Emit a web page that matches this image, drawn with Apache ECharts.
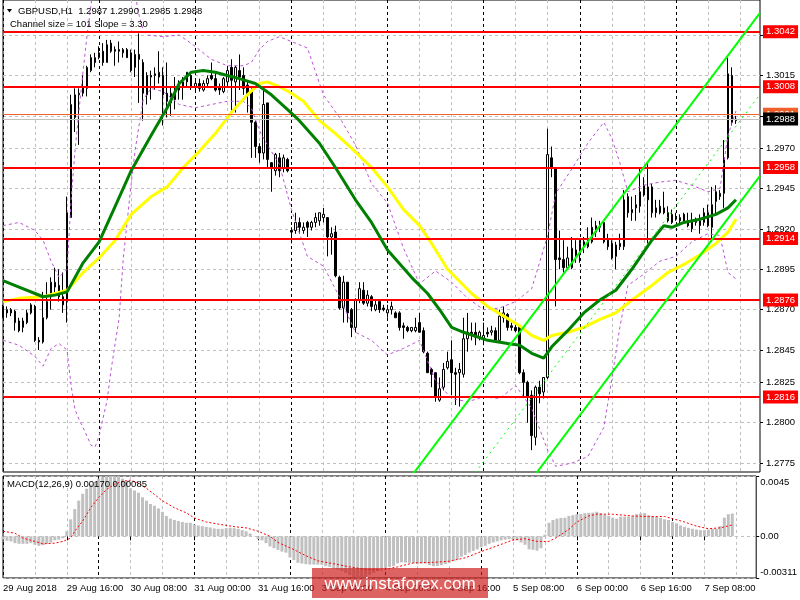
<!DOCTYPE html>
<html><head><meta charset="utf-8">
<script src="https://cdn.jsdelivr.net/npm/echarts@6/dist/echarts.min.js"></script>
<style>html,body{margin:0;padding:0;background:#fff}#c{width:800px;height:600px}</style>
</head><body><div id="c"></div>
<script>
// ---------- price data (GBPUSD H1, 29 Aug 00:00 -> 7 Sep 15:00) ----------
const opens=[1.2872,1.2870,1.2870,1.2869,1.2863,1.2859,1.2862,1.2868,1.2872,1.2851,
1.2850,1.2865,1.2878,1.2884,1.2885,1.2878,1.2875,1.2927,1.2989,1.3003,
1.3004,1.3007,1.3018,1.3026,1.3026,1.3030,1.3023,1.3035,1.3031,1.3031,
1.3029,1.3031,1.3029,1.3020,1.3028,1.3023,1.3003,1.3015,1.3016,1.3014,
1.3015,1.3004,1.2998,1.3006,1.3006,1.3008,1.3011,1.3015,1.3008,1.3010,
1.3006,1.3010,1.3015,1.3013,1.3008,1.3005,1.3011,1.3020,1.3011,1.3018,
1.3015,1.3009,1.3005,1.2986,1.2971,1.2967,1.2998,1.2961,1.2956,1.2964,
1.2958,1.2963,1.2919,1.2919,1.2924,1.2919,1.2924,1.2921,1.2924,1.2925,
1.2927,1.2927,1.2915,1.2918,1.2890,1.2871,1.2887,1.2870,1.2859,1.2876,
1.2882,1.2874,1.2878,1.2870,1.2875,1.2871,1.2868,1.2870,1.2868,1.2868,
1.2860,1.2859,1.2857,1.2857,1.2862,1.2857,1.2843,1.2833,1.2831,1.2814,
1.2822,1.2834,1.2839,1.2831,1.2831,1.2830,1.2852,1.2856,1.2856,1.2853,
1.2852,1.2856,1.2856,1.2857,1.2851,1.2865,1.2867,1.2860,1.2859,1.2859,
1.2831,1.2825,1.2817,1.2791,1.2822,1.2819,1.2828,1.2964,1.2958,1.2902,
1.2901,1.2896,1.2896,1.2907,1.2904,1.2909,1.2909,1.2912,1.2918,1.2921,
1.2924,1.2913,1.2911,1.2903,1.2909,1.2909,1.2940,1.2930,1.2933,1.2934,
1.2941,1.2946,1.2946,1.2930,1.2934,1.2933,1.2930,1.2924,1.2927,1.2925,
1.2929,1.2925,1.2920,1.2924,1.2925,1.2924,1.2930,1.2921,1.2937,1.2940,
1.2942,1.2964,1.3015,1.2987];
const closes=[1.2865,1.2868,1.2868,1.2862,1.2857,1.2863,1.2868,1.2873,1.2851,1.2850,
1.2865,1.2875,1.2887,1.2887,1.2878,1.2873,1.2930,1.2997,1.3003,1.3004,
1.3008,1.3020,1.3026,1.3023,1.3029,1.3023,1.3034,1.3030,1.3030,1.3030,
1.3031,1.3026,1.3018,1.3028,1.3025,1.3004,1.3015,1.3014,1.3015,1.3017,
1.3003,1.2999,1.3004,1.3000,1.3008,1.3011,1.3017,1.3008,1.3010,1.3007,
1.3010,1.3013,1.3013,1.3006,1.3006,1.3013,1.3018,1.3012,1.3020,1.3014,
1.3007,1.3003,1.2986,1.2971,1.2967,1.2997,1.2963,1.2958,1.2966,1.2956,
1.2964,1.2956,1.2918,1.2924,1.2921,1.2921,1.2921,1.2924,1.2927,1.2930,
1.2929,1.2915,1.2917,1.2891,1.2871,1.2887,1.2868,1.2859,1.2876,1.2883,
1.2874,1.2879,1.2872,1.2873,1.2870,1.2870,1.2870,1.2872,1.2865,1.2859,
1.2859,1.2857,1.2859,1.2859,1.2856,1.2844,1.2831,1.2830,1.2816,1.2821,
1.2833,1.2838,1.2831,1.2830,1.2833,1.2852,1.2856,1.2854,1.2853,1.2856,
1.2854,1.2855,1.2857,1.2851,1.2866,1.2868,1.2859,1.2859,1.2857,1.2831,
1.2825,1.2816,1.2792,1.2822,1.2818,1.2828,1.2966,1.2958,1.2901,1.2901,
1.2896,1.2902,1.2908,1.2903,1.2911,1.2912,1.2914,1.2921,1.2922,1.2922,
1.2912,1.2909,1.2902,1.2910,1.2911,1.2938,1.2930,1.2932,1.2935,1.2943,
1.2947,1.2938,1.2930,1.2933,1.2930,1.2930,1.2925,1.2929,1.2926,1.2927,
1.2924,1.2922,1.2925,1.2926,1.2922,1.2930,1.2922,1.2935,1.2943,1.2942,
1.2964,1.3016,1.2986,1.2988];
const lows=[1.2865,1.2865,1.2866,1.2857,1.2856,1.2856,1.2861,1.2867,1.2850,1.2845,
1.2849,1.2864,1.2870,1.2880,1.2875,1.2868,1.2862,1.2927,1.2980,1.2972,
1.3002,1.3002,1.3017,1.3020,1.3025,1.3021,1.3023,1.3029,1.3021,1.3023,
1.3026,1.3026,1.3017,1.3014,1.2998,1.2987,1.2997,1.3000,1.3006,1.3010,
1.2984,1.2989,1.2990,1.2994,1.3000,1.3000,1.3008,1.3006,1.3005,1.3005,
1.3005,1.3008,1.3012,1.3005,1.3003,1.3004,1.3008,1.2992,1.2992,1.3006,
1.3003,1.2992,1.2964,1.2964,1.2961,1.2963,1.2958,1.2943,1.2953,1.2952,
1.2955,1.2955,1.2911,1.2917,1.2917,1.2917,1.2915,1.2919,1.2921,1.2922,
1.2924,1.2903,1.2904,1.2890,1.2870,1.2862,1.2862,1.2853,1.2856,1.2874,
1.2873,1.2872,1.2869,1.2869,1.2868,1.2869,1.2865,1.2867,1.2865,1.2857,
1.2852,1.2856,1.2856,1.2856,1.2856,1.2843,1.2831,1.2822,1.2813,1.2813,
1.2820,1.2833,1.2817,1.2811,1.2810,1.2828,1.2844,1.2851,1.2848,1.2851,
1.2848,1.2853,1.2854,1.2850,1.2850,1.2862,1.2857,1.2857,1.2856,1.2830,
1.2816,1.2800,1.2783,1.2786,1.2812,1.2815,1.2827,1.2952,1.2872,1.2895,
1.2893,1.2895,1.2895,1.2899,1.2899,1.2905,1.2908,1.2911,1.2915,1.2918,
1.2911,1.2907,1.2901,1.2895,1.2907,1.2907,1.2927,1.2925,1.2925,1.2930,
1.2940,1.2911,1.2927,1.2927,1.2929,1.2929,1.2924,1.2923,1.2925,1.2923,
1.2923,1.2921,1.2918,1.2922,1.2917,1.2922,1.2921,1.2912,1.2929,1.2938,
1.2933,1.2963,1.2984,1.2985];
const highs=[1.2873,1.2872,1.2871,1.2870,1.2865,1.2865,1.2870,1.2874,1.2873,1.2853,
1.2881,1.2887,1.2890,1.2896,1.2895,1.2893,1.2940,1.3003,1.3007,1.3007,
1.3015,1.3021,1.3028,1.3029,1.3033,1.3035,1.3037,1.3037,1.3033,1.3036,
1.3032,1.3032,1.3031,1.3031,1.3041,1.3025,1.3017,1.3018,1.3020,1.3030,
1.3020,1.3023,1.3008,1.3014,1.3012,1.3014,1.3017,1.3017,1.3012,1.3013,
1.3012,1.3015,1.3023,1.3017,1.3010,1.3014,1.3021,1.3025,1.3021,1.3028,
1.3020,1.3012,1.3007,1.2987,1.2973,1.3006,1.2998,1.2961,1.2967,1.2967,
1.2966,1.2964,1.2921,1.2930,1.2927,1.2924,1.2925,1.2925,1.2930,1.2930,
1.2933,1.2927,1.2921,1.2922,1.2891,1.2891,1.2887,1.2871,1.2877,1.2887,
1.2887,1.2882,1.2879,1.2876,1.2875,1.2873,1.2873,1.2875,1.2869,1.2869,
1.2862,1.2860,1.2859,1.2865,1.2868,1.2859,1.2844,1.2834,1.2831,1.2828,
1.2837,1.2844,1.2851,1.2834,1.2837,1.2865,1.2868,1.2862,1.2862,1.2857,
1.2862,1.2859,1.2860,1.2859,1.2870,1.2872,1.2868,1.2862,1.2862,1.2860,
1.2833,1.2826,1.2820,1.2823,1.2826,1.2828,1.2982,1.2971,1.2958,1.2919,
1.2913,1.2909,1.2915,1.2913,1.2913,1.2915,1.2921,1.2927,1.2925,1.2925,
1.2925,1.2917,1.2913,1.2912,1.2917,1.2944,1.2942,1.2940,1.2941,1.2958,
1.2952,1.2961,1.2948,1.2938,1.2938,1.2943,1.2934,1.2932,1.2930,1.2929,
1.2930,1.2930,1.2930,1.2927,1.2929,1.2933,1.2935,1.2946,1.2947,1.2944,
1.2975,1.3026,1.3020,1.2990];

// moving averages (read at sample bars)
const greenMaBars=[0,4,8,10,13,16,20,24,28,32,37,41,44,47,50,53,56,59,63,67,71,74,79,83,88,92,96,102,106,109,112,115,121,126,129,132,135,137,141,145,149,153,157,162,165,167,170,174,178,181,183];
const greenMaVals=[1.2888,1.2884,1.2880,1.2878,1.2879,1.2881,1.2899,1.2912,1.2934,1.2956,1.2978,1.2995,1.3010,1.3017,1.3018,1.3017,1.3015,1.3013,1.3010,1.3003,1.2994,1.2987,1.2973,1.2958,1.2938,1.2924,1.2907,1.2890,1.2880,1.2870,1.2859,1.2856,1.2851,1.2849,1.2848,1.2843,1.2840,1.2847,1.2857,1.2868,1.2876,1.2882,1.2895,1.2913,1.2922,1.2921,1.2924,1.2926,1.2929,1.2933,1.2938];
const yellowMaBars=[0,4,10,16,20,24,28,32,37,41,45,49,53,57,61,64,66,69,72,75,79,83,87,92,96,100,104,107,111,117,121,125,129,132,135,137,141,145,149,153,157,162,166,170,174,178,181,183];
const yellowMaVals=[1.2875,1.2877,1.2878,1.2882,1.2893,1.2902,1.2913,1.2929,1.2940,1.2946,1.2958,1.2968,1.2979,1.2992,1.3003,1.3010,1.3011,1.3008,1.3004,1.2999,1.2987,1.2979,1.2970,1.2958,1.2946,1.2932,1.2922,1.2911,1.2895,1.2880,1.2872,1.2866,1.2860,1.2854,1.2851,1.2854,1.2856,1.2859,1.2864,1.2868,1.2876,1.2885,1.2893,1.2898,1.2904,1.2911,1.2918,1.2926];
// bands
const upperBandBars=[0,4,8,10,12,14,16,17,18,19,20,21,22,23,32,33,34,35,36,40,44,48,52,56,60,62,64,66,69,72,76,80,84,88,92,96,100,104,108,112,116,120,124,128,132,136,138,142,146,150,152,154,156,160,164,168,172,176,179,181,183];
const upperBandVals=[1.2922,1.2924,1.2919,1.2913,1.2900,1.2890,1.2895,1.2938,1.2969,1.2994,1.3018,1.3040,1.3059,1.3080,1.3087,1.3065,1.3052,1.3043,1.3040,1.3039,1.3040,1.3033,1.3025,1.3021,1.3021,1.3023,1.3031,1.3036,1.3039,1.3036,1.3032,1.3003,1.2989,1.2972,1.2948,1.2936,1.2908,1.2886,1.2894,1.2887,1.2877,1.2870,1.2871,1.2875,1.2883,1.2916,1.2942,1.2957,1.2973,1.2986,1.2976,1.2961,1.2943,1.2947,1.2949,1.2950,1.2947,1.2943,1.2945,1.2978,1.2993];
const lowerBandBars=[0,4,8,10,12,14,16,17,18,19,20,22,23,24,26,27,29,30,32,33,35,37,40,44,48,52,56,60,62,64,66,69,72,76,80,84,88,92,96,100,104,108,112,116,120,124,128,132,136,138,142,146,150,152,154,156,160,164,168,172,176,179,181,183];
const lowerBandVals=[1.2851,1.2848,1.2841,1.2835,1.2846,1.2849,1.2845,1.2823,1.2808,1.2802,1.2797,1.2786,1.2785,1.2792,1.2814,1.2833,1.2865,1.2901,1.2948,1.2969,1.3000,1.3007,1.3005,1.2997,1.2995,1.2997,1.2999,1.2999,1.2995,1.2981,1.2972,1.2960,1.2932,1.2903,1.2897,1.2878,1.2856,1.2851,1.2842,1.2846,1.2851,1.2826,1.2815,1.2813,1.2816,1.2815,1.2823,1.2809,1.2783,1.2773,1.2775,1.2779,1.2797,1.2827,1.2859,1.2885,1.2892,1.2900,1.2903,1.2912,1.2917,1.2916,1.2893,1.2889];
// regression channel endpoints [bar, price]
const channelUpper=[[90,1.27275],[189,1.30537]];
const channelMid=[[90,1.26771],[189,1.30033]];
const channelLower=[[90,1.26266],[189,1.29528]];
// horizontal levels
const levelLines=[1.3042,1.3008,1.2958,1.2914,1.2876,1.2816];
const askLevel=1.2991, bidLevel=1.2988;
// MACD(12,26,9)
const macdHist=[-0.00025,-0.00033,-0.00038,-0.00051,-0.00056,-0.00056,-0.00056,-0.00051,-0.00063,-0.00071,
-0.00066,-0.00056,-0.00046,-0.00030,-0.00025,-0.00015,0.00038,0.00127,0.00203,0.00266,
0.00317,0.00355,0.00386,0.00406,0.00431,0.00444,0.00449,0.00450,0.00449,0.00444,
0.00431,0.00406,0.00358,0.00342,0.00325,0.00291,0.00266,0.00241,0.00228,0.00208,
0.00183,0.00152,0.00132,0.00122,0.00114,0.00107,0.00101,0.00101,0.00089,0.00081,
0.00076,0.00071,0.00066,0.00059,0.00056,0.00056,0.00061,0.00063,0.00061,0.00056,
0.00046,0.00038,0.00021,-0.00002,-0.00021,-0.00030,-0.00051,-0.00076,-0.00089,-0.00101,
-0.00114,-0.00122,-0.00158,-0.00177,-0.00198,-0.00203,-0.00208,-0.00211,-0.00211,-0.00211,
-0.00213,-0.00223,-0.00228,-0.00241,-0.00249,-0.00259,-0.00274,-0.00289,-0.00304,-0.00311,
-0.00308,-0.00301,-0.00289,-0.00274,-0.00259,-0.00244,-0.00236,-0.00228,-0.00221,-0.00202,
-0.00194,-0.00196,-0.00198,-0.00203,-0.00208,-0.00203,-0.00203,-0.00215,-0.00223,-0.00221,
-0.00215,-0.00208,-0.00198,-0.00185,-0.00173,-0.00152,-0.00139,-0.00122,-0.00109,-0.00097,
-0.00081,-0.00071,-0.00056,-0.00046,-0.00038,-0.00030,-0.00025,-0.00021,-0.00025,-0.00030,
-0.00046,-0.00063,-0.00097,-0.00101,-0.00107,-0.00089,0.00013,0.00101,0.00122,0.00132,
0.00137,0.00139,0.00152,0.00158,0.00165,0.00167,0.00173,0.00175,0.00177,0.00183,
0.00173,0.00162,0.00152,0.00139,0.00132,0.00147,0.00147,0.00147,0.00152,0.00165,
0.00170,0.00173,0.00158,0.00152,0.00145,0.00137,0.00127,0.00122,0.00107,0.00097,
0.00081,0.00071,0.00063,0.00056,0.00051,0.00046,0.00046,0.00051,0.00056,0.00056,
0.00076,0.00139,0.00165,0.00170];
const signalBars=[0,3,5,8,10,13,15,17,18,20,22,24,26,28,30,32,34,36,38,40,43,46,48,51,54,58,61,64,67,69,73,76,79,83,87,91,95,99,103,108,112,116,120,124,128,131,134,137,139,142,144,147,149,153,158,162,166,168,171,174,177,180,183];
const signalVals=[0.00038,0.00023,-0.00013,-0.00038,-0.00056,-0.00051,-0.00038,-0.00013,0.00038,0.00114,0.00213,0.00289,0.00350,0.00388,0.00411,0.00419,0.00396,0.00358,0.00312,0.00266,0.00213,0.00175,0.00137,0.00107,0.00091,0.00072,0.00063,0.00038,0,-0.00046,-0.00099,-0.00145,-0.00183,-0.00205,-0.00228,-0.00247,-0.00251,-0.00228,-0.00198,-0.00194,-0.00186,-0.00160,-0.00114,-0.00071,-0.00027,-0.00018,-0.00038,-0.00038,-0.00008,0.00053,0.00107,0.00152,0.00165,0.00165,0.00152,0.00147,0.00148,0.00132,0.00107,0.00076,0.00057,0.00063,0.00085];
// axes
const priceTicks=[1.2775,1.2800,1.2825,1.2845,1.2870,1.2895,1.2920,1.2945,1.2970,1.2990,1.3015,1.3040];
const priceMin=1.27695, priceMax=1.30617;
const macdTicks=[0.0045,0,-0.00311];
const macdMin=-0.00311, macdMax=0.0045;
const xTickBars=[0,16,32,48,64,80,96,112,128,144,160,176];
const xTickLabels=['29 Aug 2018','29 Aug 16:00','30 Aug 08:00','31 Aug 00:00','31 Aug 16:00','3 Sep 08:00','4 Sep 00:00','4 Sep 16:00','5 Sep 08:00','6 Sep 00:00','6 Sep 16:00','7 Sep 08:00'];
const daySeparators=[0,24,48,72,96,120,144,168];
const slotCount=190;

// ---------- chart ----------
const FONT='"Liberation Sans", Arial, sans-serif';
const categories=[]; for(let i=0;i<slotCount;i++) categories.push(String(i));
const pair=(b,v)=>b.map((x,i)=>[x,v[i]]);
const candles=opens.map((o,i)=>[o,closes[i],lows[i],highs[i]]);
const grayGrid={show:true,interval:(i)=>i%8===0,lineStyle:{color:'#c0c0c0',type:[3,3],width:1}};
const blackGrid={show:true,interval:(i)=>daySeparators.indexOf(i)>=0,lineStyle:{color:'#000',type:[3,3],width:1}};
const hiddenCat=(g,pos,split)=>({type:'category',gridIndex:g,position:pos,data:categories,boundaryGap:false,axisLine:{show:false},axisTick:{show:false},axisLabel:{show:false},splitLine:split});
const boxLabel=(bg)=>({show:true,position:'end',distance:3,formatter:p=>Number(p.value).toFixed(4),color:'#fff',backgroundColor:bg,padding:[2,3,1,3],fontSize:9.5,lineHeight:10,fontFamily:FONT});
const lineS=(data,color,width,type,z)=>({type:'line',xAxisIndex:0,yAxisIndex:0,data,symbol:'none',silent:true,z,lineStyle:{color,width,type},clip:true});

const chart=echarts.init(document.getElementById('c'),null,{renderer:'canvas'});
chart.setOption({
  animation:false,
  backgroundColor:'#fff',
  grid:[
    {left:3,top:0,width:757,height:472,show:true,borderColor:'#000',borderWidth:1},
    {left:3,top:476,width:757,height:102,show:true,borderColor:'#000',borderWidth:1}
  ],
  xAxis:[
    hiddenCat(0,'bottom',grayGrid),
    hiddenCat(0,'top',blackGrid),
    {type:'category',gridIndex:1,position:'bottom',data:categories,boundaryGap:false,
     axisLine:{show:false},
     axisTick:{show:true,interval:(i)=>xTickBars.indexOf(i)>=0,length:4,lineStyle:{color:'#000'}},
     axisLabel:{show:true,interval:(i)=>xTickBars.indexOf(i)>=0,formatter:(v,i)=>{const k=xTickBars.indexOf(i);return k>=0?xTickLabels[k]:'';},align:'left',margin:5,fontSize:9.5,fontFamily:FONT,color:'#000'},
     splitLine:grayGrid},
    hiddenCat(1,'top',blackGrid)
  ],
  yAxis:[
    {type:'value',gridIndex:0,position:'right',min:priceMin,max:priceMax,
     axisLine:{show:false},
     axisTick:{show:true,customValues:priceTicks,length:3,lineStyle:{color:'#000'}},
     axisLabel:{show:true,customValues:priceTicks,formatter:v=>Number(v).toFixed(4),margin:6,fontSize:9.5,fontFamily:FONT,color:'#000'},
     splitLine:{show:true,lineStyle:{color:'#c0c0c0',type:[3,3],width:1}}},
    {type:'value',gridIndex:1,position:'right',min:macdMin,max:macdMax,
     axisLine:{show:false},
     axisTick:{show:true,customValues:macdTicks,length:3,lineStyle:{color:'#000'}},
     axisLabel:{show:true,customValues:macdTicks,margin:4,fontSize:9.5,fontFamily:FONT,color:'#000',
       formatter:v=>v>0?'{t|'+v.toFixed(4)+'}':(v<0?'{b|'+v.toFixed(5)+'}':'{m|0.00}'),
       rich:{t:{padding:[12,0,0,0],fontSize:9.5,fontFamily:FONT},b:{padding:[0,0,11,0],fontSize:9.5,fontFamily:FONT},m:{fontSize:9.5,fontFamily:FONT}}},
     splitLine:{show:true,lineStyle:{color:'#c0c0c0',type:[3,3],width:1}}}
  ],
  series:[
    {type:'candlestick',xAxisIndex:0,yAxisIndex:0,data:candles,barWidth:2,z:2,silent:true,
     itemStyle:{color:'#ffffff',color0:'#000000',borderColor:'#000000',borderColor0:'#000000',borderWidth:1},
     markLine:{symbol:['none','none'],silent:true,precision:4,
       data:[
         ...levelLines.map(v=>({yAxis:v,lineStyle:{color:'#ff0000',width:2,type:'solid'},label:boxLabel('#ff0000')})),
         {yAxis:askLevel,lineStyle:{color:'#f0602a',width:1,type:'solid'},label:boxLabel('#f0602a')},
         {yAxis:bidLevel,lineStyle:{color:'#c0c0c0',width:1,type:'solid'},label:boxLabel('#000000')}
       ]}},
    lineS(pair(upperBandBars,upperBandVals),'#ba55d3',1,[3,3],3),
    lineS(pair(lowerBandBars,lowerBandVals),'#ba55d3',1,[3,3],3),
    lineS(pair(yellowMaBars,yellowMaVals),'#ffff00',3,'solid',4),
    lineS(pair(greenMaBars,greenMaVals),'#008000',3,'solid',5),
    lineS(channelUpper,'#00ff00',2,'solid',6),
    lineS(channelLower,'#00ff00',2,'solid',6),
    lineS(channelMid,'#00ff00',1,[2,4],6),
    {type:'bar',xAxisIndex:2,yAxisIndex:1,data:macdHist,barWidth:3,silent:true,itemStyle:{color:'#c0c0c0'},z:2},
    {type:'line',xAxisIndex:2,yAxisIndex:1,data:pair(signalBars,signalVals),symbol:'none',silent:true,z:3,lineStyle:{color:'#ff0000',width:1,type:[2,2]}}
  ],
  graphic:[
    {type:'polygon',shape:{points:[[7,9],[12,9],[9.5,12.5]]},style:{fill:'#000'},z:100},
    {type:'text',x:18,y:11,z:100,style:{text:'GBPUSD,H1  1.2987 1.2990 1.2985 1.2988',fill:'#000',font:'9.5px "Liberation Sans", Arial, sans-serif',verticalAlign:'middle',textVerticalAlign:'middle'}},
    {type:'text',x:10,y:24,z:100,style:{text:'Channel size = 101 Slope = 3.30',fill:'#000',font:'9.5px "Liberation Sans", Arial, sans-serif',verticalAlign:'middle',textVerticalAlign:'middle'}},
    {type:'text',x:7,y:484,z:100,style:{text:'MACD(12,26,9) 0.00170 0.00085',fill:'#000',font:'9.5px "Liberation Sans", Arial, sans-serif',verticalAlign:'middle',textVerticalAlign:'middle'}},
    {type:'rect',shape:{x:312,y:568,width:176,height:30},style:{fill:'rgba(205,25,25,0.68)'},z:200},
    {type:'text',x:400,y:584,z:201,style:{text:'www.instaforex.com',fill:'#fff',font:'17px "Liberation Sans", Arial, sans-serif',align:'center',textAlign:'center',verticalAlign:'middle',textVerticalAlign:'middle'}}
  ]
});
</script></body></html>
